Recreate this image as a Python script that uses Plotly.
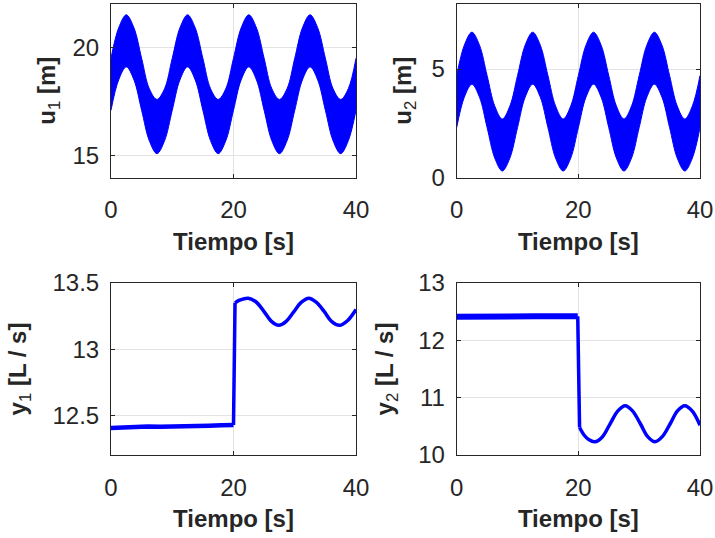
import plotly.graph_objects as go
from plotly.subplots import make_subplots

# ---- data ----
t_band = [0.0, 1.25, 2.5, 3.75, 5.0, 6.25, 7.5, 8.75, 10.0, 11.25, 12.5, 13.75,
          15.0, 16.25, 17.5, 18.75, 20.0, 21.25, 22.5, 23.75, 25.0, 26.25, 27.5,
          28.75, 30.0, 31.25, 32.5, 33.75, 35.0, 36.25, 37.5, 38.75, 40.0]
u1_upper = [19.5, 20.9, 21.5, 20.9, 19.5, 18.1, 17.6, 18.1,
            19.5, 20.9, 21.5, 20.9, 19.5, 18.1, 17.6, 18.1,
            19.5, 20.9, 21.5, 20.9, 19.5, 18.1, 17.6, 18.1,
            19.5, 20.9, 21.5, 20.9, 19.5, 18.1, 17.6, 18.1, 19.5]
u1_lower = [17.1, 18.5, 19.1, 18.5, 17.1, 15.7, 15.1, 15.7,
            17.1, 18.5, 19.1, 18.5, 17.1, 15.7, 15.1, 15.7,
            17.1, 18.5, 19.1, 18.5, 17.1, 15.7, 15.1, 15.7,
            17.1, 18.5, 19.1, 18.5, 17.1, 15.7, 15.1, 15.7, 17.1]
u2_upper = [4.7, 6.1, 6.7, 6.1, 4.7, 3.3, 2.7, 3.3,
            4.7, 6.1, 6.7, 6.1, 4.7, 3.3, 2.7, 3.3,
            4.7, 6.1, 6.7, 6.1, 4.7, 3.3, 2.7, 3.3,
            4.7, 6.1, 6.7, 6.1, 4.7, 3.3, 2.7, 3.3, 4.7]
u2_lower = [2.3, 3.7, 4.3, 3.7, 2.3, 0.9, 0.3, 0.9,
            2.3, 3.7, 4.3, 3.7, 2.3, 0.9, 0.3, 0.9,
            2.3, 3.7, 4.3, 3.7, 2.3, 0.9, 0.3, 0.9,
            2.3, 3.7, 4.3, 3.7, 2.3, 0.9, 0.3, 0.9, 2.3]

# y1: flat part, step, oscillation
y1_t_pre = [0, 2, 4, 6, 8, 10, 12, 14, 16, 18, 20]
y1_pre = [12.405, 12.41, 12.412, 12.415, 12.414, 12.418, 12.42, 12.419, 12.422, 12.424, 12.426]
y1_t_step = [20.0, 20.25]
y1_step = [12.426, 13.35]
y1_t_post = [20.25, 21.0, 22.4, 23.6, 24.9, 26.2, 27.4, 28.6, 29.8, 31.1, 32.3,
             33.5, 34.8, 36.0, 37.3, 38.6, 40.0]
y1_post = [13.35, 13.37, 13.385, 13.36, 13.29, 13.21, 13.18, 13.21, 13.28, 13.355,
           13.385, 13.355, 13.285, 13.21, 13.18, 13.215, 13.30]

# y2: flat part, step, oscillation
y2_t_pre = [0, 2, 4, 6, 7.4, 9, 11, 13, 15, 17, 19, 19.9]
y2_pre = [12.41, 12.415, 12.42, 12.425, 12.43, 12.42, 12.415, 12.42, 12.418, 12.42, 12.425, 12.42]
y2_t_step = [19.9, 20.2]
y2_step = [12.42, 10.48]
y2_t_post = [20.2, 21.0, 21.7, 22.7, 23.9, 25.2, 26.5, 27.7, 28.9, 30.2, 31.4,
             32.6, 33.8, 35.1, 36.3, 37.5, 38.7, 40.0]
y2_post = [10.48, 10.34, 10.27, 10.23, 10.31, 10.54, 10.77, 10.86, 10.77, 10.545,
           10.32, 10.23, 10.32, 10.545, 10.77, 10.86, 10.77, 10.52]

x_ticks = [0, 20, 40]
BLUE = "#0000ff"
DARK = "#262626"
FONT = "Liberation Sans, Arial, sans-serif"

fig = make_subplots(rows=2, cols=2)

# bands (top plots)
for (col, lo, up) in [(1, u1_lower, u1_upper), (2, u2_lower, u2_upper)]:
    fig.add_trace(go.Scatter(x=t_band, y=lo, mode="lines",
                             line=dict(color=BLUE, width=1, shape="spline"),
                             showlegend=False, hoverinfo="skip"), row=1, col=col)
    fig.add_trace(go.Scatter(x=t_band, y=up, mode="lines", fill="tonexty",
                             fillcolor=BLUE,
                             line=dict(color=BLUE, width=1, shape="spline"),
                             showlegend=False, hoverinfo="skip"), row=1, col=col)

# step responses (bottom plots)
for (col, tp, yp, ts, ys, tq, yq, wpre) in [
        (1, y1_t_pre, y1_pre, y1_t_step, y1_step, y1_t_post, y1_post, 4.5),
        (2, y2_t_pre, y2_pre, y2_t_step, y2_step, y2_t_post, y2_post, 6)]:
    fig.add_trace(go.Scatter(x=tp, y=yp, mode="lines",
                             line=dict(color=BLUE, width=wpre),
                             showlegend=False), row=2, col=col)
    fig.add_trace(go.Scatter(x=ts, y=ys, mode="lines",
                             line=dict(color=BLUE, width=3.5),
                             showlegend=False), row=2, col=col)
    fig.add_trace(go.Scatter(x=tq, y=yq, mode="lines",
                             line=dict(color=BLUE, width=3.5, shape="spline"),
                             showlegend=False), row=2, col=col)

xdom = {1: [111 / 715, 356 / 715], 2: [456.7 / 715, 700 / 715]}
ydom = {1: [1 - 177.5 / 538, 1 - 4 / 538], 2: [1 - 455 / 538, 1 - 283 / 538]}

y_cfg = {
    (1, 1): dict(range=[14, 22], tickvals=[15, 20], title="<b>u</b><sub>1</sub><b> [m]</b>", standoff=10),
    (1, 2): dict(range=[0, 8], tickvals=[0, 5], title="<b>u</b><sub>2</sub><b> [m]</b>", standoff=13),
    (2, 1): dict(range=[12.2, 13.5], tickvals=[12.5, 13, 13.5], ticktext=["12.5", "13", "13.5"],
                 title="<b>y</b><sub>1</sub><b> [L / s]</b>", standoff=19),
    (2, 2): dict(range=[10, 13], tickvals=[10, 11, 12, 13], title="<b>y</b><sub>2</sub><b> [L / s]</b>", standoff=17),
}

common = dict(showline=True, linecolor=DARK, linewidth=1, mirror="ticks",
              ticks="inside", ticklen=4, tickcolor=DARK, tickwidth=1,
              showgrid=True, gridcolor="#e3e3e3", gridwidth=1, zeroline=False,
              tickfont=dict(family=FONT, size=24, color=DARK), automargin=False)

for r in (1, 2):
    for c in (1, 2):
        fig.update_xaxes(row=r, col=c, domain=xdom[c], range=[0, 40], tickvals=x_ticks,
                         title=dict(text="<b>Tiempo [s]</b>", standoff=10,
                                    font=dict(family=FONT, size=24, color=DARK)),
                         ticklabelstandoff=11, **common)
        cfg = y_cfg[(r, c)]
        kw = dict(domain=ydom[r], range=cfg["range"], tickvals=cfg["tickvals"],
                  title=dict(text=cfg["title"], standoff=cfg["standoff"],
                             font=dict(family=FONT, size=24, color=DARK)),
                  ticklabelstandoff=6, **common)
        if "ticktext" in cfg:
            kw["ticktext"] = cfg["ticktext"]
        fig.update_yaxes(row=r, col=c, **kw)

fig.update_layout(width=715, height=538, margin=dict(l=0, r=0, t=0, b=0),
                  template="none", paper_bgcolor="white", plot_bgcolor="white",
                  showlegend=False)

fig.write_html("out.html", config={"displayModeBar": False},
               post_script="document.body.style.margin='0';document.body.style.overflow='hidden';")
